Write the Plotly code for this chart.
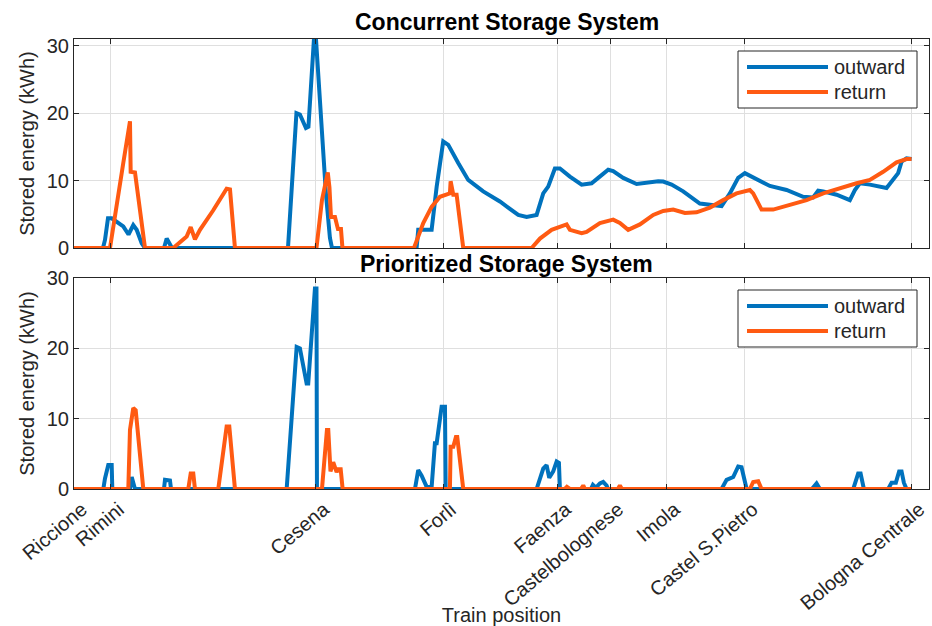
import plotly.graph_objects as go

# ---- data (x: train position in km from Riccione, y: stored energy in kWh) ----
station_names = ["Riccione", "Rimini", "Cesena", "Forlì", "Faenza", "Castelbolognese",
                 "Imola", "Castel S.Pietro", "Bologna Centrale"]
station_km = [0, 5.30, 34.67, 52.93, 69.33, 76.85, 84.94, 96.12, 120.0]

series_names = ["outward", "return"]

conc_out_x = [0, 4.15, 4.44, 4.87, 5.40, 6.12, 7.06, 7.81, 8.49, 8.98, 9.70, 10.17,
              12.89, 13.28, 13.75, 14.04, 30.66, 31.87, 32.37, 33.23, 33.59, 34.38, 34.67,
              35.38, 36.10, 36.67, 36.96, 49.09, 49.32, 51.24, 51.96, 52.90, 53.62, 55.05,
              56.48, 58.63, 61.02, 63.65, 64.85, 66.28, 67.23, 67.94, 68.90, 69.62, 71.05,
              72.73, 74.16, 75.11, 76.54, 77.25, 78.69, 80.61, 82.04, 83.70, 84.42, 85.62,
              87.28, 89.67, 91.11, 92.78, 93.97, 95.16, 96.12, 97.55, 99.70, 102.09, 104.47,
              105.90, 106.62, 107.34, 109.26, 111.16, 111.88, 112.59, 114.03, 116.42, 117.36,
              118.08, 118.57, 119.28, 120.0]
conc_out_y = [0, 0, 1.2, 4.4, 4.4, 3.9, 3.2, 2.0, 3.4, 2.7, 0.7, 0,
              0, 1.4, 0.5, 0, 0, 20.0, 19.8, 17.8, 18.0, 31.0, 31.0,
              20.0, 8.0, 1.5, 0, 0, 2.7, 2.7, 9.1, 15.8, 15.3, 12.6,
              10.1, 8.4, 6.9, 4.9, 4.6, 4.9, 8.1, 9.1, 11.8, 11.8, 10.6,
              9.4, 9.6, 10.4, 11.6, 11.4, 10.4, 9.5, 9.7, 9.9, 9.85, 9.4,
              8.4, 6.6, 6.4, 6.2, 8.1, 10.4, 11.1, 10.4, 9.2, 8.6, 7.6,
              7.5, 8.5, 8.4, 7.9, 7.1, 8.6, 9.6, 9.4, 8.9, 10.1,
              11.1, 12.8, 13.3, 13.2]

conc_ret_x = [0, 5.16, 7.06, 8.02, 8.12, 8.74, 10.17, 14.22, 16.14, 16.72, 17.33, 18.05,
              19.95, 21.87, 22.35, 23.06, 34.74, 35.53, 36.36, 36.60, 36.82, 37.39, 37.82,
              38.25, 38.46, 48.71, 50.04, 51.24, 52.43, 53.39, 53.86, 53.96, 54.34, 54.82,
              55.77, 65.57, 66.76, 68.43, 70.09, 70.58, 71.05, 72.73, 73.44, 75.35, 77.25,
              78.21, 79.40, 81.08, 82.99, 84.42, 85.85, 87.53, 89.20, 91.11, 93.01, 94.93,
              96.84, 97.31, 98.51, 100.17, 102.56, 104.96, 107.34, 109.73, 112.12, 114.03,
              115.93, 117.85, 119.28, 120.0]
conc_ret_y = [0, 0, 12.6, 18.8, 11.3, 11.2, 0, 0, 1.7, 3.1, 1.3, 2.7,
              5.6, 8.8, 8.7, 0, 0, 7.1, 11.2, 9.0, 4.6, 4.6, 2.8,
              2.8, 0, 0, 3.7, 6.1, 7.6, 8.0, 8.1, 9.9, 7.9, 7.9,
              0, 0, 1.4, 2.7, 3.2, 3.5, 2.7, 2.2, 2.4, 3.7, 4.2,
              3.7, 2.7, 3.5, 4.9, 5.5, 5.7, 5.2, 5.3, 6.0, 7.1, 8.1,
              8.6, 8.1, 5.7, 5.7, 6.4, 7.1, 8.1, 8.9, 9.6, 10.1,
              11.3, 12.7, 13.2, 13.2]

prio_out_x = [0, 4.20, 4.44, 4.91, 5.40, 5.49, 8.02, 8.27, 8.74, 12.89, 13.04, 13.75, 13.90,
              30.47, 31.90, 32.37, 33.33, 33.56, 34.52, 34.74, 34.81, 48.85, 49.32, 49.81,
              50.53, 51.24, 51.71, 51.96, 52.67, 53.15, 53.25, 66.28, 67.23, 67.71, 68.09,
              68.66, 69.15, 69.48, 69.62, 74.06, 74.35, 74.78, 75.35, 75.82, 76.31, 76.50,
              92.78, 93.50, 94.45, 95.16, 95.64, 96.12, 96.37, 105.72, 106.39, 106.87,
              111.64, 112.35, 112.70, 113.17, 116.65, 117.14, 117.75, 118.22, 118.57,
              118.90, 119.28, 120.0]
prio_out_y = [0, 0, 1.5, 3.4, 3.4, 0, 0, 1.7, 0, 0, 1.3, 1.2, 0,
              0, 20.2, 20.0, 15.0, 15.0, 28.5, 28.5, 0, 0, 2.7, 1.9,
              0.3, 0.3, 6.5, 6.5, 11.7, 11.7, 0, 0, 2.9, 3.4, 1.6,
              2.5, 3.9, 3.7, 0, 0, 0.6, 0.2, 0.8, 1.0, 0.5, 0,
              0, 1.3, 1.7, 3.2, 3.1, 0.7, 0, 0, 0.8, 0,
              0, 2.2, 2.2, 0, 0, 0.9, 0.9, 2.5, 2.5,
              0.9, 0, 0]

prio_ret_x = [0, 7.78, 8.02, 8.49, 8.84, 9.93, 16.37, 16.72, 17.09, 17.33, 20.67, 21.87,
              22.25, 23.06, 35.53, 36.24, 36.43, 36.75, 37.14, 37.63, 37.86, 38.21, 38.49,
              53.86, 53.96, 54.34, 54.72, 54.91, 55.77, 70.33, 70.62, 71.05, 72.63, 72.96,
              73.20, 77.93, 78.21, 78.50, 96.84, 97.31, 98.03, 98.51, 120.0]
prio_ret_y = [0, 0, 8.4, 11.5, 11.2, 0, 0, 2.2, 2.2, 0, 0, 8.9,
              8.9, 0, 0, 8.4, 8.4, 2.5, 3.8, 2.4, 2.8, 2.8, 0,
              0, 6.0, 6.0, 7.4, 7.4, 0, 0, 0.3, 0, 0, 0.5,
              0, 0, 0.5, 0, 0, 1.0, 1.1, 0, 0]

y_ticks = [0, 10, 20, 30]

# ---- styling ----
BLUE = "#0072BD"
ORANGE = "#FF5A12"
FONT = "Liberation Sans, Arial, sans-serif"
AXC = "#262626"
GRID = "#dfdfdf"
W, H = 932, 626
LW = 4

fig = go.Figure()
fig.add_trace(go.Scatter(x=conc_out_x, y=conc_out_y, mode="lines", name=series_names[0],
                         line=dict(color=BLUE, width=LW), xaxis="x", yaxis="y", showlegend=False))
fig.add_trace(go.Scatter(x=conc_ret_x, y=conc_ret_y, mode="lines", name=series_names[1],
                         line=dict(color=ORANGE, width=LW), xaxis="x", yaxis="y", showlegend=False))
fig.add_trace(go.Scatter(x=prio_out_x, y=prio_out_y, mode="lines", name=series_names[0],
                         line=dict(color=BLUE, width=LW), xaxis="x2", yaxis="y2", showlegend=False))
fig.add_trace(go.Scatter(x=prio_ret_x, y=prio_ret_y, mode="lines", name=series_names[1],
                         line=dict(color=ORANGE, width=LW), xaxis="x2", yaxis="y2", showlegend=False))

xdom = [74 / W, 929 / W]
ydom_top = [1 - 248 / H, 1 - 39 / H]
ydom_bot = [1 - 489 / H, 1 - 278 / H]

common_x = dict(range=[0, 122.5], tickmode="array", tickvals=station_km,
                showgrid=True, gridcolor=GRID, gridwidth=1, zeroline=False,
                showline=True, linecolor=AXC, linewidth=1, mirror="ticks",
                ticks="inside", ticklen=5, tickcolor=AXC, automargin=False,
                tickfont=dict(family=FONT, size=20, color=AXC))
common_y = dict(tickmode="array", tickvals=y_ticks,
                showgrid=True, gridcolor=GRID, gridwidth=1, zeroline=False,
                showline=True, linecolor=AXC, linewidth=1, mirror="ticks",
                ticks="inside", ticklen=5, tickcolor=AXC, automargin=False,
                tickfont=dict(family=FONT, size=20, color=AXC),
                title=dict(text="Stored energy (kWh)", font=dict(family=FONT, size=20, color=AXC),
                           standoff=6))

# ---- legends (MATLAB style: long line samples inside a framed box) ----
shapes = []
annotations = []
for top_px in (51, 290):
    shapes.append(dict(type="rect", xref="paper", yref="paper",
                       x0=738 / W, x1=917 / W, y0=1 - (top_px + 57) / H, y1=1 - top_px / H,
                       line=dict(color=AXC, width=1), fillcolor="white", layer="above"))
    for i, (name, col) in enumerate(zip(series_names, [BLUE, ORANGE])):
        yc = 1 - (top_px + 16 + 25 * i) / H
        shapes.append(dict(type="line", xref="paper", yref="paper",
                           x0=747 / W, x1=828 / W, y0=yc, y1=yc,
                           line=dict(color=col, width=4), layer="above"))
        annotations.append(dict(text=name, xref="paper", yref="paper", x=832 / W, y=yc,
                                xanchor="left", yanchor="middle", showarrow=False,
                                font=dict(family=FONT, size=20, color=AXC)))

annotations += [
    dict(text="<b>Concurrent Storage System</b>", xref="paper", yref="paper",
         x=507 / W, y=1 - 22 / H, xanchor="center", yanchor="middle", showarrow=False,
         font=dict(family=FONT, size=23, color="black")),
    dict(text="<b>Prioritized Storage System</b>", xref="paper", yref="paper",
         x=507 / W, y=1 - 264 / H, xanchor="center", yanchor="middle", showarrow=False,
         font=dict(family=FONT, size=23, color="black")),
]

fig.update_layout(
    width=W, height=H, autosize=False,
    margin=dict(l=0, r=0, t=0, b=0),
    paper_bgcolor="white", plot_bgcolor="white",
    font=dict(family=FONT, size=20, color=AXC),
    xaxis=dict(domain=xdom, anchor="y", showticklabels=False, **common_x),
    yaxis=dict(domain=ydom_top, anchor="x", range=[0, 31], **common_y),
    xaxis2=dict(domain=xdom, anchor="y2", ticktext=station_names, tickangle=-40,
                ticklabelshift=8,
                title=dict(text="Train position", font=dict(family=FONT, size=20, color=AXC),
                           standoff=2),
                **common_x),
    yaxis2=dict(domain=ydom_bot, anchor="x2", range=[0, 30], **common_y),
    showlegend=False,
    shapes=shapes,
    annotations=annotations,
)

fig.write_html("out.html")
